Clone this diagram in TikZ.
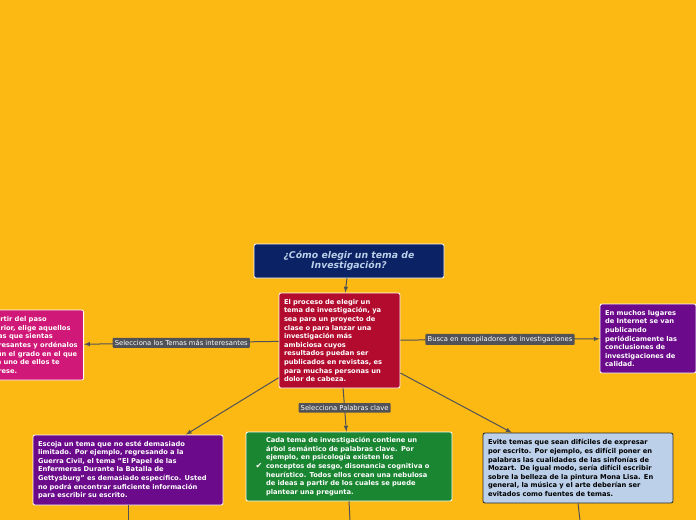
\documentclass[tikz,border=0pt]{standalone}
\usepackage{fontspec}
\usepackage[none]{hyphenat}
\setmainfont{DejaVu Sans}
\usetikzlibrary{positioning}
\definecolor{bgyellow}{HTML}{FDB913}
\definecolor{navy}{HTML}{0B2264}
\definecolor{crimson}{HTML}{B20B2E}
\definecolor{pinkbox}{HTML}{CF1877}
\definecolor{purplebox}{HTML}{6B0A8A}
\definecolor{greenbox}{HTML}{1B8632}
\definecolor{bluebox}{HTML}{BCD0EA}
\definecolor{linegray}{HTML}{505258}
\tikzset{
  topic/.style={draw=white, rounded corners=2pt, line width=0.8pt, align=left, text=white,
    font=\fontsize{6.7}{8.6}\selectfont\bfseries, inner sep=5pt},
  tag/.style={fill=linegray, text=white, rounded corners=1pt, inner sep=2.2pt,
    font=\fontsize{6.8}{7.5}\selectfont},
  link/.style={draw=linegray, line width=1pt, -latex}
}
\begin{document}
\begin{tikzpicture}[x=1pt, y=-1pt]
  \useasboundingbox[fill=bgyellow] (0,0) rectangle (696,520);
  \clip (0,0) rectangle (696,520);

  \node[topic, fill=navy, text=bluebox, align=center, minimum width=190pt, minimum height=34pt,
    font=\fontsize{9.3}{10.5}\selectfont\bfseries\itshape] (title) at (349,261)
    {¿Cómo elegir un tema de\\Investigación?};

  \node[topic, fill=crimson, text width=111pt, minimum height=95pt] (proc) at (339.5,340.5)
    {El proceso de elegir un\\tema de investigación, ya\\sea para un proyecto de\\clase o para lanzar una\\investigación más\\ambiciosa cuyos\\resultados puedan ser\\publicados en revistas, es\\para muchas personas un\\dolor de cabeza.};

  \node[topic, fill=pinkbox, minimum height=70pt, anchor=east, inner xsep=6pt] (temas) at (84,345)
    {A partir del paso\\anterior, elige aquellos\\temas que sientas\\interesantes y ordénalos\\según el grado en el que\\cada uno de ellos te\\interese.};

  \node[topic, fill=purplebox, text width=86pt, minimum height=69pt] (busca) at (648,338.5)
    {En muchos lugares\\de Internet se van\\publicando\\periódicamente las\\conclusiones de\\investigaciones de\\calidad.};

  \node[topic, fill=purplebox, text width=180pt, minimum height=70pt] (limit) at (128,470)
    {Escoja un tema que no esté demasiado\\limitado. Por ejemplo, regresando a la\\Guerra Civil, el tema "El Papel de las\\Enfermeras Durante la Batalla de\\Gettysburg" es demasiado específico. Usted\\no podrá encontrar suficiente información\\para escribir su escrito.};

  \node[topic, fill=greenbox, text width=196pt, minimum height=69pt] (claves) at (349,466.5)
    {\hspace*{15pt}\parbox[t]{181pt}{\raggedright Cada tema de investigación contiene un\\árbol semántico de palabras clave. Por\\ejemplo, en psicología existen los\\conceptos de sesgo, disonancia cognitiva o\\heurístico. Todos ellos crean una nebulosa\\de ideas a partir de los cuales se puede\\plantear una pregunta.}};
  \node[text=white, font=\fontsize{8}{8}\selectfont, inner sep=1pt] (check) at (259,466) {✔};

  \node[topic, fill=bluebox, draw=black!85, text=black, text width=180pt, minimum height=70pt] (evite) at (578,468)
    {Evite temas que sean difíciles de expresar\\por escrito. Por ejemplo, es difícil poner en\\palabras las cualidades de las sinfonías de\\Mozart. De igual modo, sería difícil escribir\\sobre la belleza de la pintura Mona Lisa. En\\general, la música y el arte deberían ser\\evitados como fuentes de temas.};

  % connectors
  \draw[link] (title) -- (proc);
  \draw[link] (proc) -- node[tag] {Selecciona los Temas más interesantes} (temas);
  \draw[link] (proc) -- node[tag] {Busca en recopiladores de investigaciones} (busca);
  \draw[link] (proc) -- node[tag, pos=0.45] {Selecciona Palabras clave} (claves);
  \draw[link] (proc) -- (limit);
  \draw[link] (proc) -- (evite);

  \coordinate (limitend) at (128,520);
  \coordinate (clavesend) at (350,520);
  \coordinate (eviteend) at (580,520);
  \draw[draw=linegray, line width=1pt] (limit.south) -- (limitend);
  \draw[draw=linegray, line width=1pt] (claves.south) -- (clavesend);
  \draw[draw=linegray, line width=1pt] (evite.south) -- (eviteend);
\end{tikzpicture}
\end{document}
